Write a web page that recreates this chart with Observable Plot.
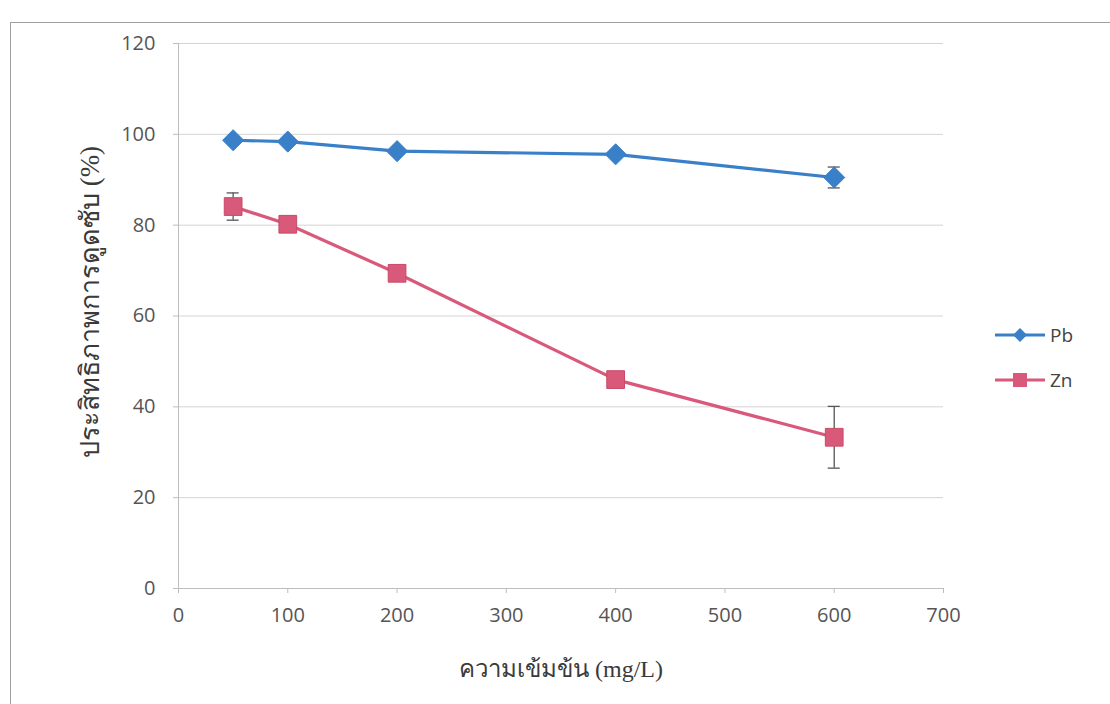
<!DOCTYPE html>
<html>
<head>
<meta charset="utf-8">
<script src="https://cdn.jsdelivr.net/npm/d3@7"></script>
<script src="https://cdn.jsdelivr.net/npm/@observablehq/plot@0.6"></script>
<style>
  html, body { margin: 0; padding: 0; background: #fff; overflow: hidden; }
  #wrap { position: relative; width: 1110px; height: 704px; }
  #border { position: absolute; left: 10px; top: 22px; width: 1120px; height: 720px; border: 1.5px solid #a0a0a0; box-sizing: border-box; pointer-events: none; }
  #chart { position: absolute; left: 0; top: 0; }
  #legend { position: absolute; left: 995px; top: 320px; font-family: "Open Sans", sans-serif; font-size: 19px; color: #444; }
  .item { display: flex; align-items: center; height: 30px; margin-bottom: 15px; }
  .item svg { margin-right: 5px; }
</style>
</head>
<body>
<div id="wrap">
  <div id="chart"></div>
  <div id="border"></div>
  <div id="legend"></div>
</div>
<script>
const concentrations = [50, 100, 200, 400, 600];
const pbValues = [98.7, 98.4, 96.3, 95.6, 90.5];
const pbErrors = [0, 0, 0, 0, 2.3];
const znValues = [84.1, 80.2, 69.4, 46.0, 33.3];
const znErrors = [3.0, 0, 0, 0, 6.8];
const seriesNames = ["Pb", "Zn"];
const seriesColors = ["#3a80c9", "#d9597a"];
const xTicks = [0, 100, 200, 300, 400, 500, 600, 700];
const yTicks = [0, 20, 40, 60, 80, 100, 120];
const xLabel = "ความเข้มข้น (mg/L)";
const yLabel = "ประสิทธิภาพการดูดซับ (%)";

const pb = concentrations.map((x, i) => ({x, y: pbValues[i], e: pbErrors[i], s: "Pb"}));
const zn = concentrations.map((x, i) => ({x, y: znValues[i], e: znErrors[i], s: "Zn"}));
const errs = [...pb, ...zn].filter(d => d.e > 0);
const capHalf = 5.5;

const plot = Plot.plot({
  width: 1110,
  height: 704,
  marginLeft: 178,
  marginRight: 167,
  marginTop: 43,
  marginBottom: 116,
  style: { fontFamily: "'Open Sans', sans-serif", background: "transparent", overflow: "visible" },
  x: { domain: [0, 700] },
  y: { domain: [0, 120] },
  marks: [
    Plot.gridY(yTicks, { stroke: "#d4d4d4", strokeOpacity: 1, strokeWidth: 1 }),
    Plot.ruleX([0], { stroke: "#bdbdbd", strokeWidth: 1 }),
    Plot.ruleY([0], { stroke: "#bdbdbd", strokeWidth: 1 }),
    Plot.axisX({ ticks: xTicks, tickSize: 5, tickPadding: 14, fontSize: 20, stroke: "#bdbdbd", fill: "#555", label: null }),
    Plot.axisY({ ticks: yTicks, tickSize: 5, tickPadding: 18, fontSize: 20, stroke: "#bdbdbd", fill: "#555", label: null }),
    Plot.ruleX(errs, { x: "x", y1: d => d.y - d.e, y2: d => d.y + d.e, stroke: "#555", strokeWidth: 1.3 }),
    Plot.ruleY(errs, { y: d => d.y - d.e, x1: d => d.x - capHalf, x2: d => d.x + capHalf, stroke: "#555", strokeWidth: 1.3 }),
    Plot.ruleY(errs, { y: d => d.y + d.e, x1: d => d.x - capHalf, x2: d => d.x + capHalf, stroke: "#555", strokeWidth: 1.3 }),
    Plot.line(pb, { x: "x", y: "y", stroke: seriesColors[0], strokeWidth: 3.2 }),
    Plot.line(zn, { x: "x", y: "y", stroke: seriesColors[1], strokeWidth: 3.2 }),
    Plot.dot(pb, { x: "x", y: "y", symbol: "diamond2", r: 9.5, fill: seriesColors[0], stroke: seriesColors[0], strokeWidth: 1 }),
    Plot.dot(zn, { x: "x", y: "y", symbol: "square", r: 10, fill: seriesColors[1], stroke: "#c84a66", strokeWidth: 1 }),
    Plot.text([xLabel], { frameAnchor: "bottom", dy: 88, text: d => d, fontSize: 24, fill: "#3a3a3a", fontFamily: "'Liberation Serif', 'DejaVu Serif', serif" }),
    Plot.text([yLabel], { frameAnchor: "left", textAnchor: "middle", dx: -88, dy: -14, rotate: -90, text: d => d, fontSize: 27, fill: "#3a3a3a", fontFamily: "'Liberation Serif', 'DejaVu Serif', serif" })
  ]
});
document.getElementById("chart").appendChild(plot);

const legend = document.getElementById("legend");
seriesNames.forEach((name, i) => {
  const item = document.createElement("div");
  item.className = "item";
  const ns = "http://www.w3.org/2000/svg";
  const svg = document.createElementNS(ns, "svg");
  svg.setAttribute("width", 50); svg.setAttribute("height", 20);
  const ln = document.createElementNS(ns, "line");
  ln.setAttribute("x1", 0); ln.setAttribute("x2", 50); ln.setAttribute("y1", 10); ln.setAttribute("y2", 10);
  ln.setAttribute("stroke", seriesColors[i]); ln.setAttribute("stroke-width", 3);
  svg.appendChild(ln);
  const m = document.createElementNS(ns, "path");
  m.setAttribute("d", i === 0 ? "M25,3L32,10L25,17L18,10Z" : "M18,3H32V17H18Z");
  m.setAttribute("fill", seriesColors[i]);
  svg.appendChild(m);
  item.appendChild(svg);
  const t = document.createElement("span");
  t.textContent = name;
  item.appendChild(t);
  legend.appendChild(item);
});
</script>
</body>
</html>
